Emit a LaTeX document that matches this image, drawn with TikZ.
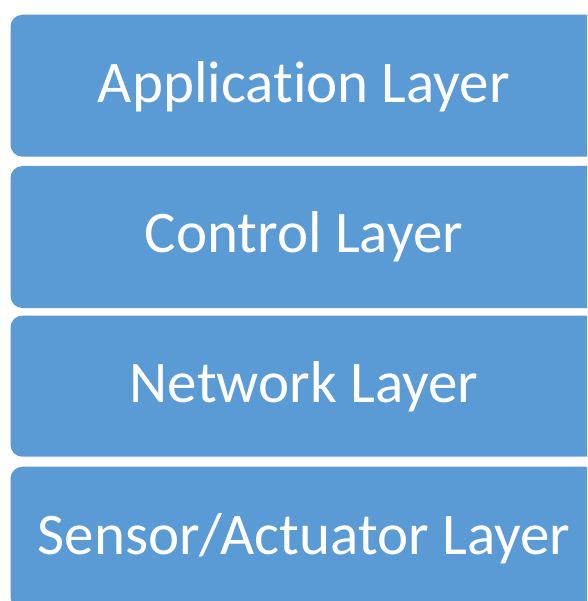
\documentclass[tikz,border=0pt]{standalone}
\usepackage{fontspec}
\setmainfont{Carlito}[Ligatures=NoCommon]
\definecolor{layerblue}{HTML}{5B9BD5}
\tikzset{
  layerbox/.style={fill=layerblue, draw=none, rounded corners=12pt},
  layertext/.style={text=white, anchor=base, font=\fontsize{59}{64}\selectfont, inner sep=0pt}
}
\begin{document}
\begin{tikzpicture}[x=1pt, y=-1pt]
  \useasboundingbox (0,0) rectangle (587,601);
  \clip (0,0) rectangle (587,601);
  % four stacked layers, top to bottom
  \fill[layerbox] (10.5,14.7) rectangle (598,156.7);
  \fill[layerbox] (10.5,166) rectangle (598,308);
  \fill[layerbox] (10.5,315.5) rectangle (598,456.7);
  \fill[layerbox] (10.5,466.7) rectangle (598,609);
  \node[layertext] (app) at (304,102.5) {Application Layer};
  \node[layertext] (ctl) at (304,252.5) {Control Layer};
  \node[layertext] (net) at (304,402) {Network Layer};
  \node[layertext] (sen) at (304,554) {Sensor/Actuator Layer};
\end{tikzpicture}
\end{document}
